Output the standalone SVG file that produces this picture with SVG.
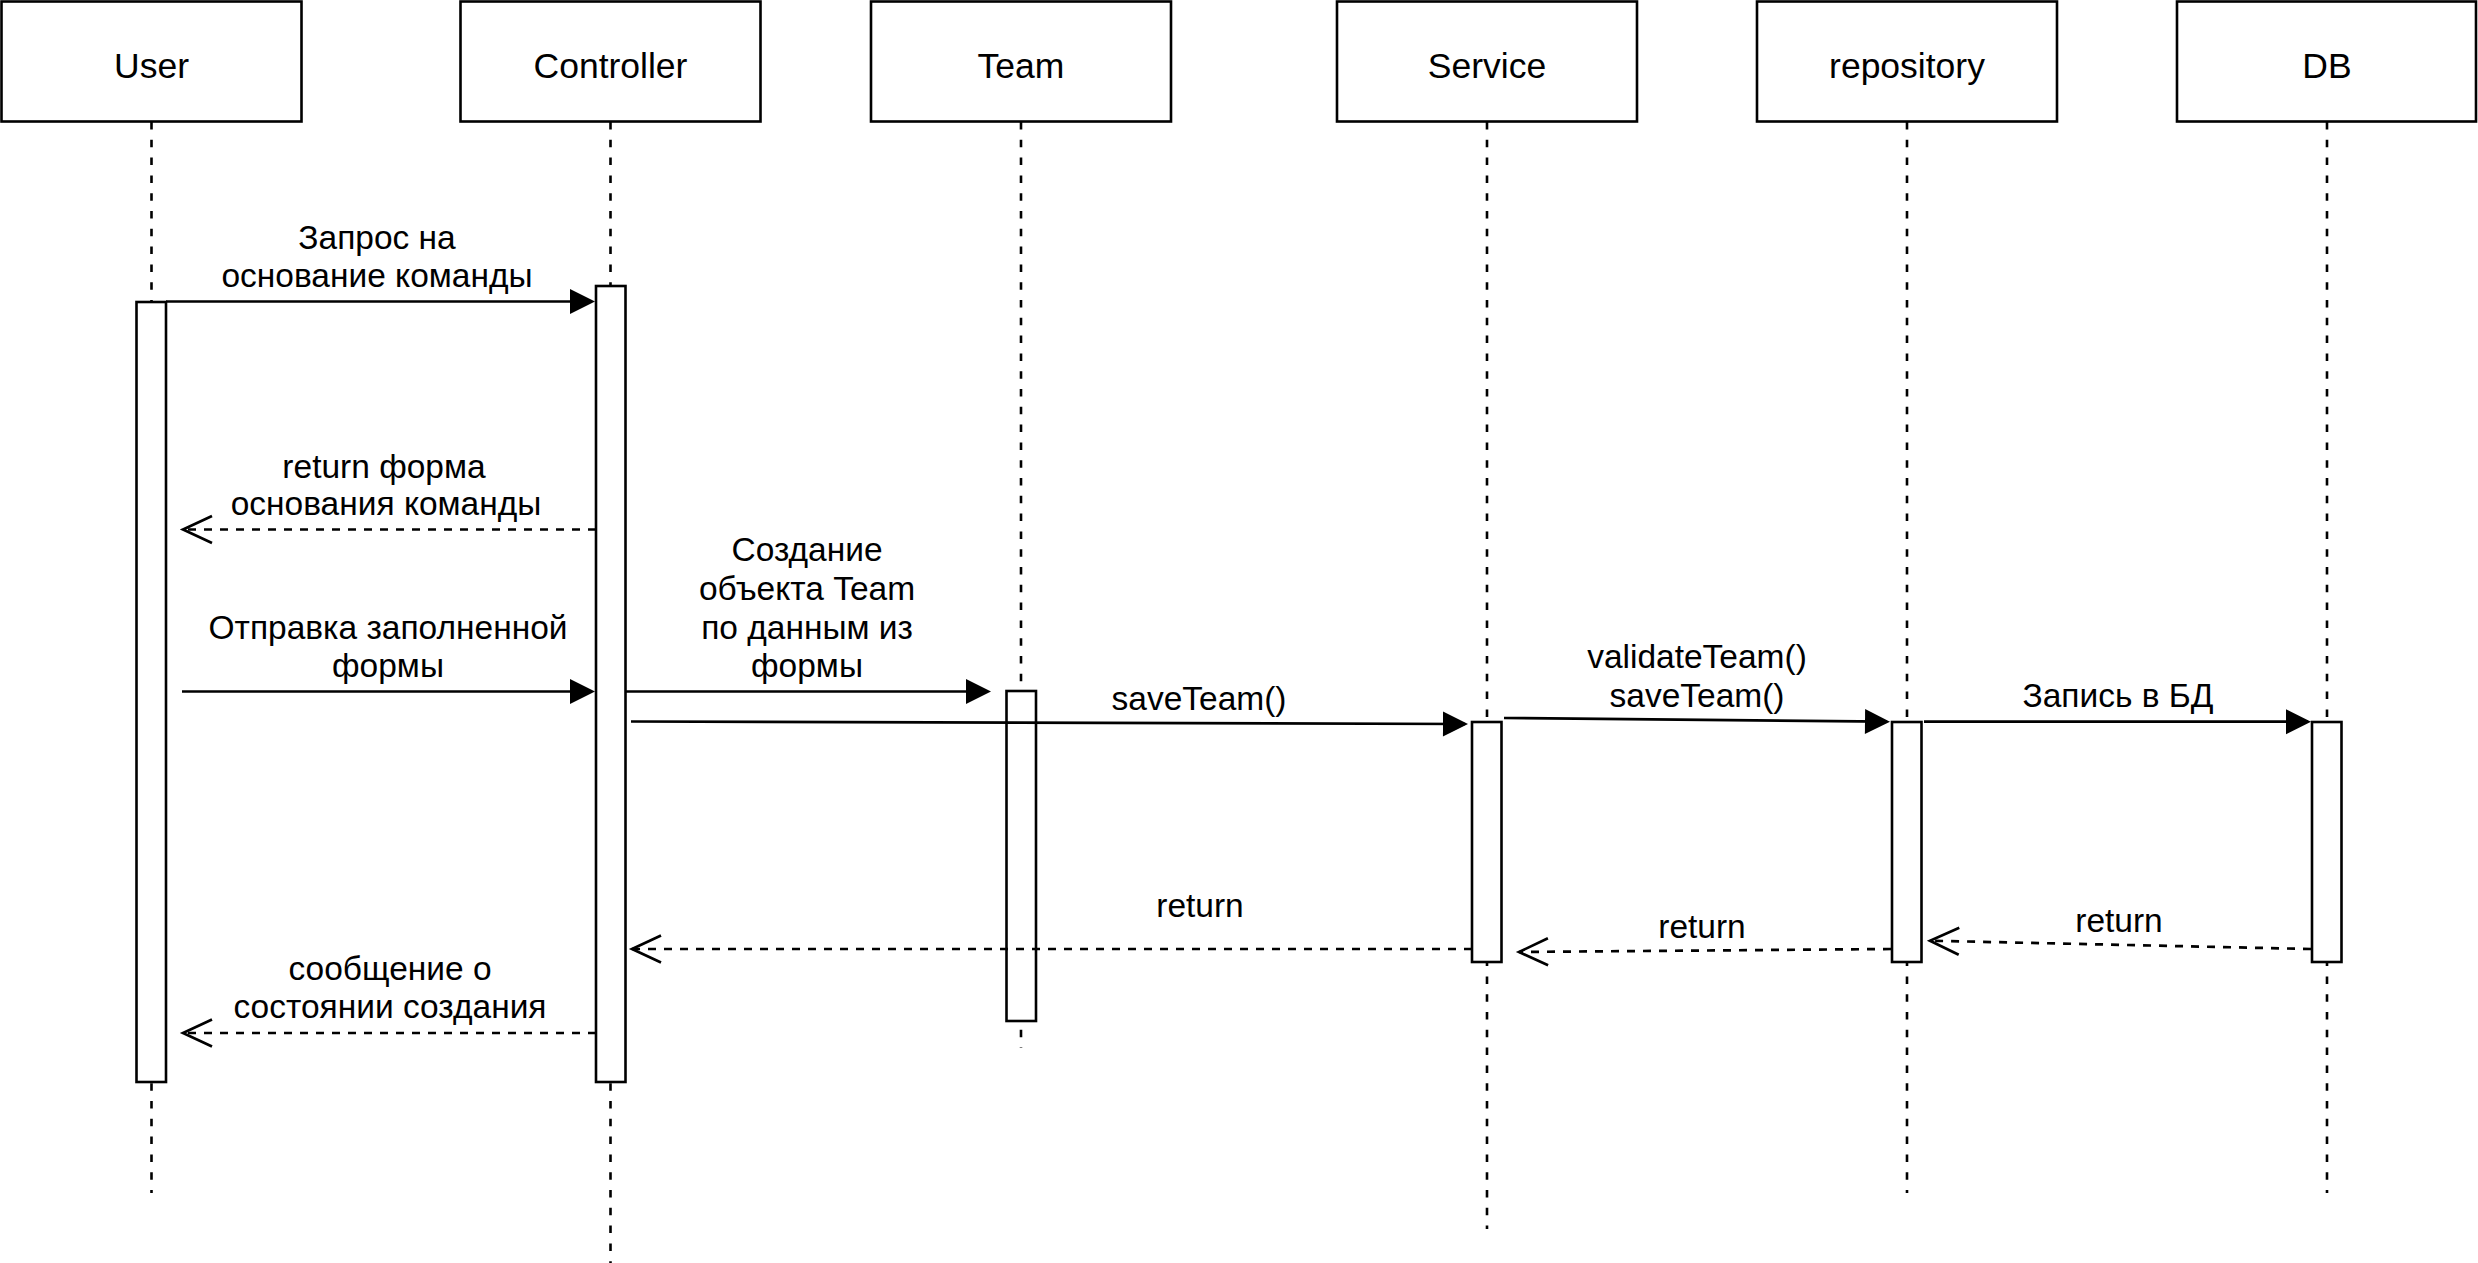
<svg xmlns="http://www.w3.org/2000/svg" width="2478" height="1263" viewBox="0 0 2478 1263">
<style>
.box{fill:#fff;stroke:#000;stroke-width:2.6}
.life{fill:none;stroke:#000;stroke-width:2.6;stroke-dasharray:7.5 10.3}
.act{fill:#fff;stroke:#000;stroke-width:2.6}
.msg{fill:none;stroke:#000;stroke-width:2.7;marker-end:url(#filled)}
.ret{fill:none;stroke:#000;stroke-width:2.7;stroke-dasharray:8 8;marker-end:url(#open)}
.hd{font-family:"Liberation Sans",Arial,Helvetica,sans-serif;font-size:35.5px;text-anchor:middle;fill:#000}
.lb{font-family:"Liberation Sans",Arial,Helvetica,sans-serif;font-size:33.5px;text-anchor:middle;fill:#000}
</style>
<defs>
<marker id="filled" markerUnits="userSpaceOnUse" markerWidth="30" markerHeight="30" refX="22" refY="12.5" orient="auto" overflow="visible">
<path d="M0,0 L25,12.5 L0,25 Z" fill="#000" stroke="none"/>
</marker>
<marker id="open" markerUnits="userSpaceOnUse" markerWidth="34" markerHeight="32" refX="29" refY="13.5" orient="auto" overflow="visible">
<path d="M0,0 L29,13.5 L0,27" fill="none" stroke="#000" stroke-width="2.7" stroke-dasharray="none"/>
</marker>
</defs>
<g id="node-user">
<rect class="box" x="1.5" y="1.5" width="300" height="120"/>
<text class="hd" x="151.5" y="78">User</text>
<line class="life" x1="151.5" y1="122" x2="151.5" y2="1193"/>
<rect class="act" x="136.5" y="302" width="29.5" height="780"/>
</g>
<g id="node-controller">
<rect class="box" x="460.5" y="1.5" width="300" height="120"/>
<text class="hd" x="610.5" y="78">Controller</text>
<line class="life" x1="610.5" y1="122" x2="610.5" y2="1263"/>
<rect class="act" x="596" y="286" width="29.5" height="796"/>
</g>
<g id="node-team">
<rect class="box" x="871" y="1.5" width="300" height="120"/>
<text class="hd" x="1021" y="78">Team</text>
<line class="life" x1="1021" y1="122" x2="1021" y2="1048"/>
<rect class="act" x="1006.5" y="691" width="29.5" height="330"/>
</g>
<g id="node-service">
<rect class="box" x="1337" y="1.5" width="300" height="120"/>
<text class="hd" x="1487" y="78">Service</text>
<line class="life" x1="1487" y1="122" x2="1487" y2="1229"/>
<rect class="act" x="1472" y="722" width="29.5" height="240"/>
</g>
<g id="node-repository">
<rect class="box" x="1757" y="1.5" width="300" height="120"/>
<text class="hd" x="1907" y="78">repository</text>
<line class="life" x1="1907" y1="122" x2="1907" y2="1193"/>
<rect class="act" x="1892" y="722" width="29.5" height="240"/>
</g>
<g id="node-db">
<rect class="box" x="2177" y="1.5" width="299" height="120"/>
<text class="hd" x="2327" y="78">DB</text>
<line class="life" x1="2327" y1="122" x2="2327" y2="1193"/>
<rect class="act" x="2312" y="722" width="29.5" height="240"/>
</g>
<g id="connectors">
<path class="msg" d="M166,301.5 L592,301.5"/>
<path class="ret" d="M596,529.5 L183,529.5"/>
<path class="msg" d="M182,691.5 L592,691.5"/>
<path class="msg" d="M626,691.5 L988,691.5"/>
<path class="msg" d="M631,721.5 L1465,724"/>
<path class="msg" d="M1504,718 L1887,721.6"/>
<path class="msg" d="M1924,721.7 L2308,721.7"/>
<path class="ret" d="M2311,949 L1930,940.7"/>
<path class="ret" d="M1891,949 L1519,952"/>
<path class="ret" d="M1472,949 L632,949"/>
<path class="ret" d="M596,1033 L183,1033"/>
</g>
<g id="labels">
<text class="lb" x="377" y="249">Запрос на</text>
<text class="lb" x="377" y="287">основание команды</text>
<text class="lb" x="384" y="478">return форма</text>
<text class="lb" x="386" y="515">основания команды</text>
<text class="lb" x="388" y="639">Отправка заполненной</text>
<text class="lb" x="388" y="677">формы</text>
<text class="lb" x="807" y="561">Создание</text>
<text class="lb" x="807" y="600">объекта Team</text>
<text class="lb" x="807" y="639">по данным из</text>
<text class="lb" x="807" y="677">формы</text>
<text class="lb" x="1199" y="710">saveTeam()</text>
<text class="lb" x="1697" y="668">validateTeam()</text>
<text class="lb" x="1697" y="707">saveTeam()</text>
<text class="lb" x="2118" y="707">Запись в БД</text>
<text class="lb" x="2119" y="932">return</text>
<text class="lb" x="1702" y="938">return</text>
<text class="lb" x="1200" y="917">return</text>
<text class="lb" x="390" y="980">сообщение о</text>
<text class="lb" x="390" y="1018">состоянии создания</text>
</g>
</svg>
